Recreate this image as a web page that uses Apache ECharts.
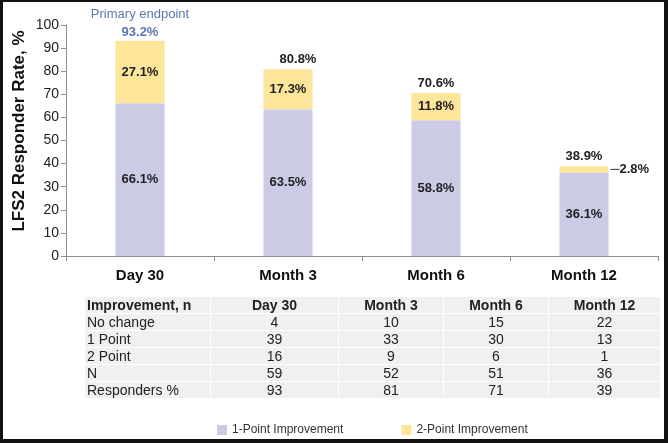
<!DOCTYPE html>
<html>
<head>
<meta charset="utf-8">
<script src="https://cdn.jsdelivr.net/npm/echarts@6/dist/echarts.min.js"></script>
<style>
  html, body { margin: 0; padding: 0; background: #fff; }
  #wrap { position: relative; width: 668px; height: 443px; overflow: hidden; font-family: "Liberation Sans", Arial, sans-serif; }
  #chart { position: absolute; left: 0; top: 0; width: 668px; height: 443px; }
  #frame { position: absolute; left: 0; top: 0; width: 668px; height: 443px; box-sizing: border-box;
           border-style: solid; border-color: #111; border-width: 2px 4px 4px 3px; pointer-events: none; }
  #tbl { position: absolute; left: 84px; top: 296px; width: 576px; table-layout: fixed; border-collapse: collapse; color: #222; font-size: 14px; }
  #tbl td { background: #f0f0f0; border: 1px solid #fff; height: 16px; line-height: 16px; padding: 0; text-align: center; overflow: hidden; white-space: nowrap; }
  #tbl td.first { text-align: left; padding-left: 2px; }
  #tbl tr.head td { font-weight: bold; }
</style>
</head>
<body>
<div id="wrap">
  <div id="chart"></div>
  <table id="tbl"><colgroup id="cols"></colgroup></table>
  <div id="frame"></div>
</div>
<script>
// ---- data ----
const categories = ['Day 30', 'Month 3', 'Month 6', 'Month 12'];
const onePoint = [66.1, 63.5, 58.8, 36.1];
const twoPoint = [27.1, 17.3, 11.8, 2.8];
const totals = [93.2, 80.8, 70.6, 38.9];
const yTicks = [0, 100, 10]; // min, max, interval

const tableHeader = ['Improvement, n', 'Day 30', 'Month 3', 'Month 6', 'Month 12'];
const rowLabels = ['No change', '1 Point', '2 Point', 'N', 'Responders %'];
const noChange = [4, 10, 15, 22];
const onePointN = [39, 33, 30, 13];
const twoPointN = [16, 9, 6, 1];
const totalN = [59, 52, 51, 36];
const respondersPct = [93, 81, 71, 39];

// ---- table ----
const colWidths = [126, 128, 105, 105, 112];
const tbl = document.getElementById('tbl');
const cols = document.getElementById('cols');
colWidths.forEach(w => { const c = document.createElement('col'); c.style.width = w + 'px'; cols.appendChild(c); });
function addRow(cells, cls) {
  const tr = document.createElement('tr');
  if (cls) tr.className = cls;
  cells.forEach((c, i) => {
    const td = document.createElement('td');
    td.textContent = c;
    if (i === 0) td.className = 'first';
    tr.appendChild(td);
  });
  tbl.appendChild(tr);
}
addRow(tableHeader, 'head');
[noChange, onePointN, twoPointN, totalN, respondersPct].forEach((arr, i) => addRow([rowLabels[i]].concat(arr)));

// ---- chart ----
const chart = echarts.init(document.getElementById('chart'));
const fmtPct = p => p.value.toFixed(1) + '%';
const lbl = { fontFamily: 'Liberation Sans', fontWeight: 'bold', fontSize: 13, color: '#222' };

const twoData = twoPoint.map((v, i) => {
  if (i === twoPoint.length - 1) {
    return { value: v, label: { position: 'right', distance: 2,
      formatter: p => '{ln|}' + p.value.toFixed(1) + '%',
      rich: { ln: { width: 9, height: 1, backgroundColor: '#333' } } } };
  }
  return v;
});

const totalData = totals.map((v, i) => {
  if (i === 0) {
    return { value: v, label: {
      offset: [0, 4],
      formatter: p => '{a|Primary endpoint}\n{b|' + p.value.toFixed(1) + '%}',
      rich: {
        a: { fontFamily: 'Liberation Sans', fontSize: 13, fontWeight: 'normal', color: '#5b78ae', lineHeight: 18 },
        b: { fontFamily: 'Liberation Sans', fontSize: 13, fontWeight: 'bold', color: '#5b78ae', lineHeight: 18 }
      } } };
  }
  if (i === 1) return { value: v, label: { offset: [10, 0] } };
  return v;
});

chart.setOption({
  animation: false,
  grid: { left: 66, right: 10, top: 25, bottom: 187 },
  legend: {
    data: ['1-Point Improvement', '2-Point Improvement'],
    left: 212, top: 419, itemWidth: 10, itemHeight: 10, itemGap: 58, icon: 'rect',
    textStyle: { fontFamily: 'Liberation Sans', fontSize: 12, color: '#333' }
  },
  xAxis: {
    type: 'category', data: categories,
    axisLine: { lineStyle: { color: '#909090', width: 1 } },
    axisTick: { show: true, length: 5, lineStyle: { color: '#909090' } },
    axisLabel: { fontFamily: 'Liberation Sans', fontWeight: 'bold', fontSize: 15, color: '#111', margin: 12 }
  },
  yAxis: {
    type: 'value', min: yTicks[0], max: yTicks[1], interval: yTicks[2],
    axisLine: { show: true, lineStyle: { color: '#909090' } },
    axisTick: { show: true, length: 5, lineStyle: { color: '#909090' } },
    splitLine: { show: false },
    axisLabel: { fontFamily: 'Liberation Sans', fontSize: 14, color: '#222', margin: 7 }
  },
  graphic: [{
    type: 'text', x: 19, y: 131, rotation: Math.PI / 2,
    style: { text: 'LFS2 Responder Rate, %', x: 0, y: 0, textAlign: 'center', textVerticalAlign: 'middle',
      fontFamily: 'Liberation Sans', fontWeight: 'bold', fontSize: 17, fill: '#111' }
  }],
  series: [
    { name: '1-Point Improvement', type: 'bar', stack: 'r', barWidth: 49, data: onePoint,
      itemStyle: { color: '#cbcbe6' },
      label: Object.assign({ show: true, position: 'inside', formatter: fmtPct }, lbl) },
    { name: '2-Point Improvement', type: 'bar', stack: 'r', barWidth: 49, data: twoData,
      itemStyle: { color: '#fde59a' },
      label: Object.assign({ show: true, position: 'inside', formatter: fmtPct }, lbl) },
    { name: 'Total', type: 'bar', barWidth: 49, barGap: '-100%', data: totalData, silent: true, z: 5,
      itemStyle: { color: 'rgba(0,0,0,0)' },
      label: Object.assign({ show: true, position: 'top', distance: 3, formatter: fmtPct }, lbl) }
  ]
});
</script>
</body>
</html>
